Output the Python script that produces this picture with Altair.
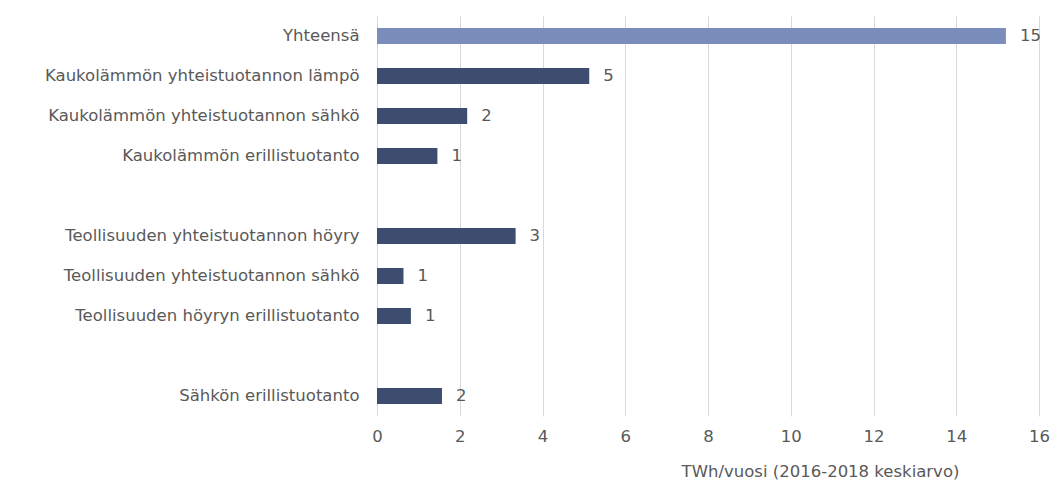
import altair as alt
import pandas as pd

categories = [
    "Yhteensä",
    "Kaukolämmön yhteistuotannon lämpö",
    "Kaukolämmön yhteistuotannon sähkö",
    "Kaukolämmön erillistuotanto",
    " ",
    "Teollisuuden yhteistuotannon höyry",
    "Teollisuuden yhteistuotannon sähkö",
    "Teollisuuden höyryn erillistuotanto",
    "  ",
    "Sähkön erillistuotanto",
]
values = [15.2, 5.13, 2.18, 1.46, None, 3.35, 0.64, 0.82, None, 1.57]
is_total = [True, False, False, False, False, False, False, False, False, False]
x_ticks = [0, 2, 4, 6, 8, 10, 12, 14, 16]

df = pd.DataFrame({"cat": categories, "val": values, "total": is_total})
df["label"] = df["val"].apply(lambda v: "" if pd.isna(v) else str(int(round(v))))

FONT = "DejaVu Sans"
TXT = "#595959"
FS = 16.5

y_scale = alt.Scale(domain=categories, paddingInner=0.6, paddingOuter=0.3)

y_enc = alt.Y(
    "cat:N",
    sort=categories,
    title=None,
    scale=y_scale,
    axis=alt.Axis(
        domain=False,
        ticks=False,
        grid=False,
        labelPadding=18,
        labelFont=FONT,
        labelFontSize=FS,
        labelColor=TXT,
        labelLimit=400,
    ),
)
x_enc = alt.X(
    "val:Q",
    scale=alt.Scale(domain=[0, 16], nice=False),
    title="TWh/vuosi (2016-2018 keskiarvo)",
    axis=alt.Axis(
        values=x_ticks,
        domain=False,
        ticks=False,
        grid=True,
        gridColor="#d9d9d9",
        gridWidth=1,
        labelFlush=False,
        labelPadding=12,
        labelFont=FONT,
        labelFontSize=FS,
        labelColor=TXT,
        titleFont=FONT,
        titleFontSize=FS,
        titleFontWeight="normal",
        titleColor=TXT,
        titleX=443,
        titleY=60,
        titleAlign="center",
        titleBaseline="alphabetic",
    ),
)

base = alt.Chart(df)
bars = base.transform_filter("datum.val != null").mark_bar().encode(
    y=y_enc,
    x=x_enc,
    color=alt.Color(
        "total:N",
        scale=alt.Scale(domain=[True, False], range=["#7b8dba", "#3c4d6f"]),
        legend=None,
    ),
)
texts = base.transform_filter("datum.val != null").mark_text(
    align="left", baseline="middle", dx=14, font=FONT, fontSize=FS, color=TXT
).encode(y=alt.Y("cat:N", sort=categories, scale=y_scale), x="val:Q", text="label:N")

chart = (
    alt.layer(bars, texts)
    .properties(
        width=662,
        height=400,
        autosize=alt.AutoSizeParams(type="none"),
        padding={"left": 377, "top": 16, "right": 14, "bottom": 74},
        background="white",
    )
    .configure_view(stroke=None)
)

chart.save("out.html", embed_options={"renderer": "svg", "actions": False})
